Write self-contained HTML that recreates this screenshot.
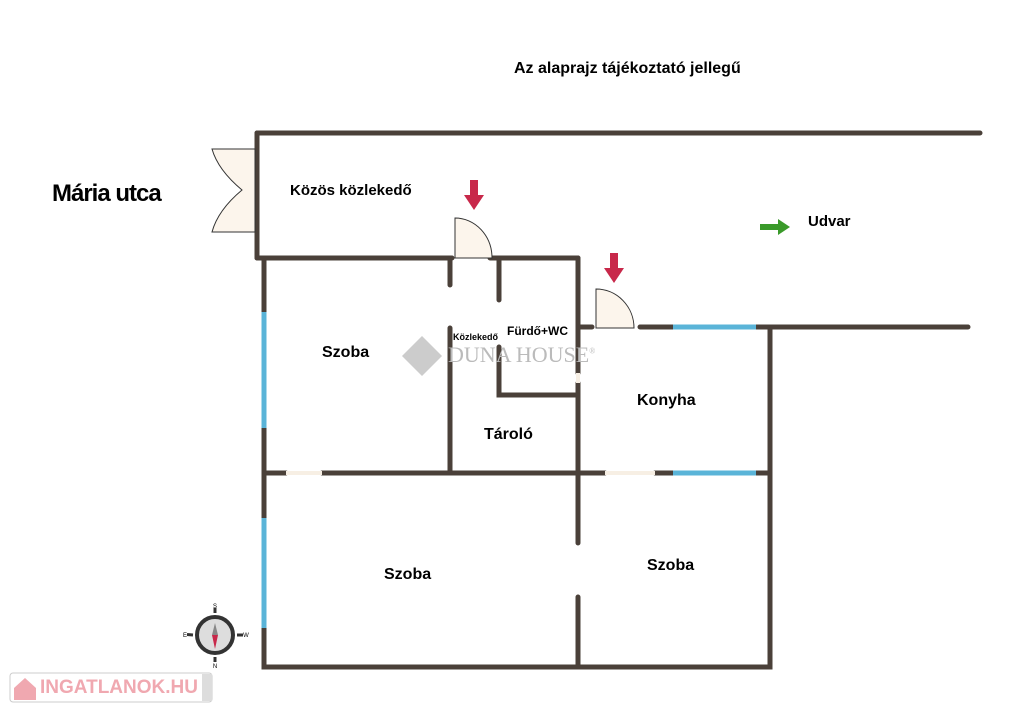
<!DOCTYPE html>
<html><head><meta charset="utf-8"><style>
body{margin:0;background:#fff;width:1024px;height:713px;overflow:hidden;position:relative;font-family:"Liberation Sans",sans-serif}
.t{position:absolute;font-weight:bold;color:#000;white-space:nowrap}
</style></head><body>
<svg width="1024" height="713" style="position:absolute;left:0;top:0">
<g stroke="#4a4039" stroke-width="5" stroke-linecap="round" fill="none">
<path d="M257 133H980"/>
<path d="M257 133V258"/>
<path d="M257 258H452M490 258H578"/>
<path d="M264 258V667H770V327"/>
<path d="M578 258V373M578 383V543M578 597V667"/>
<path d="M578 327H592M640 327H968"/>
<path d="M264 473H286M322 473H605M655 473H770"/>
<path d="M450 258V285M450 328V473"/>
<path d="M499 258V300M499 347V395H578"/>
</g>
<g stroke="#5ab4d8" stroke-width="5">
<path d="M264 312V428M264 518V628"/>
<path d="M673 327H756M673 473H756"/>
</g>
<g stroke="#f7efe4" stroke-width="4"><path d="M286 473H322M605 473H655M578 373V383"/></g>
<g fill="#fcf5ec" stroke="#333" stroke-width="1">
<path d="M455 258V218A37 40 0 0 1 492 258Z"/>
<path d="M596 328V289A38 39 0 0 1 634 328Z"/>
<path d="M255 149H212Q218 170 242 190Q218 210 212 232H255Z"/>
</g>
<g fill="#c8284a">
<path d="M470 180h8v15h6l-10 15l-10-15h6z"/>
<path d="M610 253h8v15h6l-10 15l-10-15h6z"/>
</g>
<path d="M760 224h18v-5l12 8l-12 8v-5h-18z" fill="#3a9a2a"/>
<g transform="translate(215,635)">
<circle r="18" fill="#ddd" stroke="#333" stroke-width="4"/>
<path d="M0-12L3 0H-3Z" fill="#888"/><path d="M0 14L3 0H-3Z" fill="#c8284a"/>
<path d="M-22 0L-28-0.5M22 0l6 0M0-22v-5M0 22v5" stroke="#333" stroke-width="3"/>
<text x="0" y="-27" font-size="6" text-anchor="middle" font-family="Liberation Sans">S</text>
<text x="0" y="33" font-size="6" text-anchor="middle" font-family="Liberation Sans">N</text>
<text x="-30" y="2" font-size="6" text-anchor="middle" font-family="Liberation Sans">E</text>
<text x="31" y="2" font-size="6" text-anchor="middle" font-family="Liberation Sans">W</text>
</g>
<g opacity="0.5"><path d="M422 336L442 356L422 376L402 356Z" fill="#999"/></g>
<rect x="10" y="673" width="202" height="29" rx="3" fill="#fff" stroke="#ccc"/>
<rect x="202" y="674" width="10" height="27" fill="#ddd"/>
<path d="M14 688L25 678L36 688V700H14Z" fill="#f0a8b0"/>
</svg>
<div class="t" style="left:514px;top:60px;font-size:16px">Az alaprajz tájékoztató jellegű</div>
<div class="t" style="left:52px;top:180px;font-size:24px;letter-spacing:-1px;font-family:'Liberation Sans Narrow','Liberation Sans',sans-serif">Mária utca</div>
<div class="t" style="left:290px;top:182px;font-size:15px">Közös közlekedő</div>
<div class="t" style="left:808px;top:213px;font-size:15px">Udvar</div>
<div class="t" style="left:322px;top:344px;font-size:16px">Szoba</div>
<div class="t" style="left:453px;top:332px;font-size:9px">Közlekedő</div>
<div class="t" style="left:507px;top:324px;font-size:12px">Fürdő+WC</div>
<div class="t" style="left:484px;top:426px;font-size:16px">Tároló</div>
<div class="t" style="left:637px;top:392px;font-size:16px">Konyha</div>
<div class="t" style="left:384px;top:566px;font-size:16px">Szoba</div>
<div class="t" style="left:647px;top:557px;font-size:16px">Szoba</div>
<div style="position:absolute;left:448px;top:342px;font-family:'Liberation Serif',serif;font-size:22px;color:#bbb;letter-spacing:0px">DUNA HOUSE<sup style="font-size:8px">®</sup></div>
<div class="t" style="left:40px;top:677px;font-size:19px;color:#f0a8b0;letter-spacing:0px">INGATLANOK.HU</div>
</body></html>
